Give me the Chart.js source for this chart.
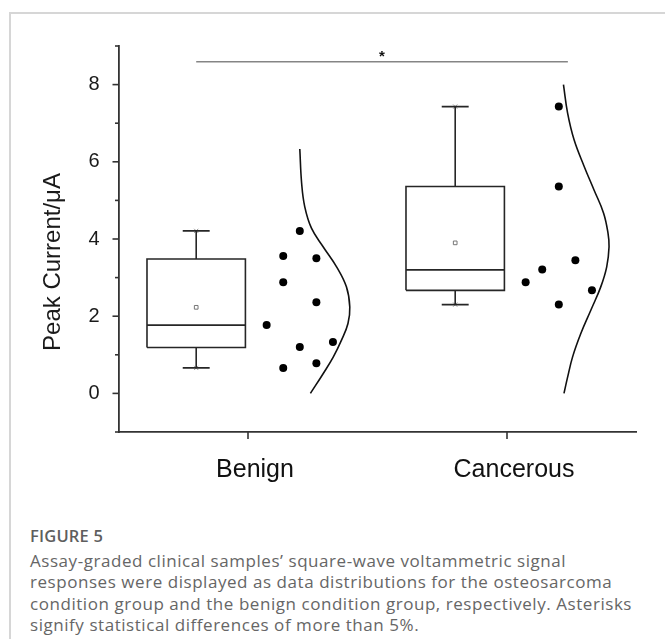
<!DOCTYPE html>
<html>
<head>
<meta charset="utf-8">
<script src="https://cdn.jsdelivr.net/npm/chart.js@4.4.1/dist/chart.umd.min.js"></script>
<style>
    html, body {
        margin: 0;
        padding: 0;
        background: #fff;
        width: 665px;
        height: 639px;
        overflow: hidden;
        position: relative;
    }
    .frame {
        position: absolute;
        left: 9px;
        top: 12px;
        right: 0;
        bottom: 0;
        border-top: 2px solid #d6d6d6;
        border-left: 2px solid #d6d6d6;
    }
    #chartWrap {
        position: absolute;
        left: 0;
        top: 0;
        width: 665px;
        height: 500px;
    }
    .y-title {
        position: absolute;
        left: 52px;
        top: 262px;
        width: 240px;
        height: 24px;
        margin-left: -120px;
        margin-top: -12px;
        line-height: 24px;
        text-align: center;
        font-family: "Liberation Sans", Arial, sans-serif;
        font-size: 24px;
        color: #1a1a1a;
        transform: rotate(-90deg);
        white-space: nowrap;
    }
    .caption {
        position: absolute;
        left: 30px;
        top: 525px;
        width: 635px;
        font-family: "Open Sans", sans-serif;
        font-size: 17px;
        letter-spacing: 0.55px;
        line-height: 21.5px;
        color: #666;
        white-space: nowrap;
    }
    .caption b {
        display: block;
        font-size: 16.5px;
        letter-spacing: 0.2px;
        font-weight: 600;
        color: #5e5e5e;
        margin-bottom: 3px;
    }
</style>
</head>
<body>
<div class="frame"></div>
<div id="chartWrap"><canvas id="chart" width="665" height="500"></canvas></div>
<div class="y-title">Peak Current/μA</div>
<div class="caption">
    <b>FIGURE 5</b>
    Assay-graded clinical samples’ square-wave voltammetric signal<br>
    responses were displayed as data distributions for the osteosarcoma<br>
    condition group and the benign condition group, respectively. Asterisks<br>
    signify statistical differences of more than 5%.
</div>
<script>
// ========================================
// DADOS
// ========================================
const categories = ['Benign', 'Cancerous'];
const groupPos = [1, 2];

// box plot
const q1Values = [1.19, 2.67];
const medianValues = [1.77, 3.20];
const q3Values = [3.48, 5.36];
const whiskerLow = [0.66, 2.30];
const whiskerHigh = [4.21, 7.43];
const meanValues = [2.23, 3.90];

// pontos individuais e a coluna em que aparecem
const benignPoints = [4.21, 3.56, 3.50, 2.88, 2.36, 1.77, 1.33, 1.20, 0.78, 0.66];
const benignCols = [0, -1, 1, -1, 1, -2, 2, 0, 1, -1];
const cancerPoints = [7.43, 5.36, 3.45, 3.21, 2.88, 2.67, 2.30];
const cancerCols = [0, 0, 1, -1, -2, 2, 0];

// curva de distribuicao: valor e largura (unidades do eixo x)
const benignCurveY = [6.33, 5.45, 4.84, 4.28, 3.80, 3.28, 2.76, 2.24, 1.81, 1.38, 0.94, 0.51, 0.00];
const benignCurveW = [0.000, 0.007, 0.019, 0.045, 0.090, 0.142, 0.180, 0.193, 0.186, 0.161, 0.129, 0.090, 0.041];
const cancerCurveY = [8.00, 7.26, 6.57, 5.88, 5.27, 4.67, 4.15, 3.80, 3.28, 2.76, 2.16, 1.55, 0.94, 0.42, 0.00];
const cancerCurveW = [0.018, 0.034, 0.059, 0.098, 0.136, 0.173, 0.190, 0.194, 0.185, 0.162, 0.124, 0.085, 0.053, 0.034, 0.020];

// barra de significancia
const sigRange = [0.8, 2.235];
const sigLevel = 8.59;
const sigLabel = '*';

const yTickValues = [0, 2, 4, 6, 8];

// ========================================
// LAYOUT
// ========================================
const BOX_OFFSET = -0.2;
const DOT_OFFSET = 0.2;
const DOT_STEP = 0.064;
const BOX_HALF = 0.19;
const CAP_HALF = 0.052;
const INK = '#262626';

function lineSet(data, color, width) {
    return {
        type: 'line',
        data: data,
        borderColor: color,
        borderWidth: width,
        pointRadius: 0,
        fill: false,
        tension: 0
    };
}

function boxDatasets(i) {
    const c = groupPos[i] + BOX_OFFSET;
    const l = c - BOX_HALF, r = c + BOX_HALF;
    return [
        lineSet([
            { x: l, y: q1Values[i] }, { x: r, y: q1Values[i] },
            { x: r, y: q3Values[i] }, { x: l, y: q3Values[i] },
            { x: l, y: q1Values[i] }
        ], INK, 1.6),
        lineSet([{ x: l, y: medianValues[i] }, { x: r, y: medianValues[i] }], INK, 1.6),
        lineSet([{ x: c, y: q3Values[i] }, { x: c, y: whiskerHigh[i] }], INK, 1.6),
        lineSet([{ x: c, y: q1Values[i] }, { x: c, y: whiskerLow[i] }], INK, 1.6),
        lineSet([{ x: c - CAP_HALF, y: whiskerHigh[i] }, { x: c + CAP_HALF, y: whiskerHigh[i] }], INK, 1.6),
        lineSet([{ x: c - CAP_HALF, y: whiskerLow[i] }, { x: c + CAP_HALF, y: whiskerLow[i] }], INK, 1.6),
        {
            type: 'scatter',
            data: [{ x: c, y: whiskerHigh[i] }, { x: c, y: whiskerLow[i] }],
            pointStyle: 'crossRot',
            pointRadius: 3,
            borderColor: '#999',
            borderWidth: 1
        },
        {
            type: 'scatter',
            data: [{ x: c, y: meanValues[i] }],
            pointStyle: 'rect',
            pointRadius: 2.6,
            backgroundColor: '#fff',
            borderColor: '#777',
            borderWidth: 1
        }
    ];
}

function curveDataset(i, ys, ws) {
    const base = groupPos[i] + DOT_OFFSET;
    const pts = ys.map((y, k) => ({ x: base + ws[k], y: y }));
    const ds = lineSet(pts, '#111', 1.6);
    ds.tension = 0.4;
    return ds;
}

function dotDataset(i, values, cols) {
    const base = groupPos[i] + DOT_OFFSET;
    return {
        type: 'scatter',
        data: values.map((v, k) => ({ x: base + cols[k] * DOT_STEP, y: v })),
        pointRadius: 4,
        pointBorderWidth: 0,
        backgroundColor: '#000'
    };
}

// ========================================
// PLUGIN: marcas dos eixos e asterisco
// ========================================
const axisMarks = {
    id: 'axisMarks',
    afterDraw(chart) {
        const ctx = chart.ctx;
        const x = chart.scales.x, y = chart.scales.y;
        const area = chart.chartArea;
        ctx.save();
        ctx.strokeStyle = '#333';
        ctx.lineWidth = 1.6;
        for (let v = -1; v <= 9; v++) {
            const py = y.getPixelForValue(v);
            const len = (v % 2 === 0) ? 6 : 3.5;
            ctx.beginPath();
            ctx.moveTo(area.left - len, py);
            ctx.lineTo(area.left, py);
            ctx.stroke();
        }
        groupPos.forEach(g => {
            const px = x.getPixelForValue(g);
            ctx.beginPath();
            ctx.moveTo(px, area.bottom);
            ctx.lineTo(px, area.bottom + 7);
            ctx.stroke();
        });
        // asterisco
        ctx.fillStyle = '#111';
        ctx.font = 'bold 15px "Liberation Sans", Arial, sans-serif';
        ctx.textAlign = 'center';
        ctx.textBaseline = 'middle';
        ctx.fillText(sigLabel, x.getPixelForValue((sigRange[0] + sigRange[1]) / 2), y.getPixelForValue(sigLevel) - 5);
        ctx.restore();
    }
};

// ========================================
// GRAFICO
// ========================================
const datasets = [
    curveDataset(0, benignCurveY, benignCurveW),
    curveDataset(1, cancerCurveY, cancerCurveW),
    ...boxDatasets(0),
    ...boxDatasets(1),
    dotDataset(0, benignPoints, benignCols),
    dotDataset(1, cancerPoints, cancerCols),
    lineSet([{ x: sigRange[0], y: sigLevel }, { x: sigRange[1], y: sigLevel }], '#858585', 1.5)
];

new Chart(document.getElementById('chart'), {
    type: 'scatter',
    data: { datasets: datasets },
    plugins: [axisMarks],
    options: {
        responsive: false,
        animation: false,
        devicePixelRatio: 1,
        layout: { padding: { top: 46, right: 28.5, bottom: 0, left: 0 } },
        plugins: {
            legend: { display: false },
            tooltip: { enabled: false }
        },
        scales: {
            x: {
                type: 'linear',
                min: 0.5,
                max: 2.5,
                grid: { display: false },
                border: { display: true, color: '#333', width: 1.8 },
                afterBuildTicks: s => { s.ticks = groupPos.map(v => ({ value: v })); },
                afterFit: s => { s.height = 68; },
                ticks: {
                    callback: v => categories[groupPos.indexOf(v)] || '',
                    font: { family: '"Liberation Sans", Arial, sans-serif', size: 25 },
                    color: '#111',
                    padding: 15,
                    labelOffset: 7,
                    maxRotation: 0
                }
            },
            y: {
                min: -1,
                max: 9,
                grid: { display: false },
                border: { display: true, color: '#333', width: 1.8 },
                afterBuildTicks: s => {
                    const t = [];
                    for (let v = -1; v <= 9; v++) t.push({ value: v });
                    s.ticks = t;
                },
                afterFit: s => { s.width = 118.5; },
                ticks: {
                    callback: v => yTickValues.includes(v) ? String(v) : '',
                    font: { family: '"Liberation Sans", Arial, sans-serif', size: 20 },
                    color: '#1a1a1a',
                    padding: 11
                }
            }
        }
    }
});
</script>
</body>
</html>
